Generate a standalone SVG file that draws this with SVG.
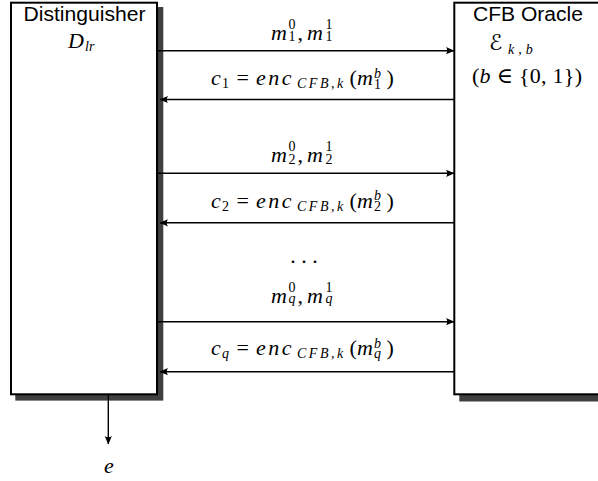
<svg xmlns="http://www.w3.org/2000/svg" width="598" height="481" viewBox="0 0 598 481">
<style>
.sf{font-family:"Liberation Sans",Arial,sans-serif;font-size:20px;fill:#000}
.mi{font-family:"Liberation Serif","Times New Roman",serif;font-style:italic;font-size:22px;fill:#000}
.rm{font-family:"Liberation Serif","DejaVu Serif","Times New Roman",serif;font-size:22px;fill:#000}
.sc{font-size:14px}
.it{font-style:italic}
.enc{letter-spacing:2.5px}
.sub{letter-spacing:2.5px}
.box{fill:#fff;stroke:#000;stroke-width:2}
.shadow{fill:#404040}
.conn{stroke:#000;stroke-width:1.4;fill:none;marker-end:url(#ah)}
</style>
<defs>
<marker id="ah" viewBox="-10 -5 12 10" refX="0" refY="0" markerWidth="12" markerHeight="10" orient="auto" markerUnits="userSpaceOnUse">
<path d="M0.5,0 L-8,-3.6 Q-5.5,0 -8,3.6 Z" fill="#000"/>
</marker>
</defs>
<rect width="598" height="481" fill="#fff"/>

<g id="distinguisher">
<rect class="shadow" x="15.3" y="7" width="148" height="393.6"/>
<rect class="box" x="11" y="2.7" width="146" height="391.6"/>
<text class="sf" x="84.5" y="21" text-anchor="middle" textLength="122" lengthAdjust="spacingAndGlyphs">Distinguisher</text>
<text class="mi" x="68" y="48">D</text>
<text class="mi sc" x="85" y="51">lr</text>
</g>

<g id="oracle">
<rect class="shadow" x="459.3" y="7" width="160" height="394.5"/>
<rect class="box" x="454.3" y="2.7" width="160" height="391.6"/>
<text class="sf" x="528" y="21" text-anchor="middle" textLength="110" lengthAdjust="spacingAndGlyphs">CFB Oracle</text>
<text x="489" y="50" font-family="'DejaVu Serif','DejaVu Sans',serif" font-size="22">ℰ</text>
<text class="mi sc" x="508" y="54" style="letter-spacing:4px">k,b</text>
<text class="rm" x="472" y="83" textLength="110" lengthAdjust="spacing">(<tspan class="it">b</tspan> ∈ {0, 1})</text>
</g>

<g id="output">
<text class="mi" x="104" y="473">e</text>
</g>

<g id="connectors">
<line class="conn" x1="158" y1="50.7" x2="454" y2="50.7"/>
<line class="conn" x1="454" y1="99.5" x2="160" y2="99.5"/>
<line class="conn" x1="158" y1="173.3" x2="454" y2="173.3"/>
<line class="conn" x1="454" y1="222.8" x2="160" y2="222.8"/>
<line class="conn" x1="158" y1="321.7" x2="454" y2="321.7"/>
<line class="conn" x1="454" y1="371.7" x2="160" y2="371.7"/>
<line class="conn" x1="108.3" y1="395.3" x2="108.3" y2="444"/>
</g>

<g id="labels">
<!-- row 1 -->
<text class="mi" x="271" y="39.5">m</text>
<text class="rm sc" x="288.5" y="28.5">0</text>
<text class="rm sc" x="288.5" y="41">1</text>
<text class="rm" x="297.5" y="39.5">,</text>
<text class="mi" x="307" y="39.5">m</text>
<text class="rm sc" x="325.5" y="28.5">1</text>
<text class="rm sc" x="325.5" y="41">1</text>

<text class="mi" x="211" y="85">c</text>
<text class="rm sc" x="222" y="88">1</text>
<text class="rm" x="236.5" y="85">=</text>
<text class="mi enc" x="256" y="85">enc</text>
<text class="mi sc sub" x="297" y="88">CFB,k</text>
<text class="rm" x="349.5" y="85">(</text>
<text class="mi" x="357" y="85">m</text>
<text class="mi sc" x="374" y="77.5">b</text>
<text class="rm sc" x="374" y="88.5">1</text>
<text class="rm" x="386.5" y="85">)</text>

<!-- row 2 -->
<text class="mi" x="271" y="162">m</text>
<text class="rm sc" x="288.5" y="151">0</text>
<text class="rm sc" x="288.5" y="163.5">2</text>
<text class="rm" x="297.5" y="162">,</text>
<text class="mi" x="307" y="162">m</text>
<text class="rm sc" x="325.5" y="151">1</text>
<text class="rm sc" x="325.5" y="163.5">2</text>

<text class="mi" x="211" y="207.5">c</text>
<text class="rm sc" x="222" y="210.5">2</text>
<text class="rm" x="236.5" y="207.5">=</text>
<text class="mi enc" x="256" y="207.5">enc</text>
<text class="mi sc sub" x="297" y="210.5">CFB,k</text>
<text class="rm" x="349.5" y="207.5">(</text>
<text class="mi" x="357" y="207.5">m</text>
<text class="mi sc" x="374" y="200">b</text>
<text class="rm sc" x="374" y="211">2</text>
<text class="rm" x="386.5" y="207.5">)</text>

<!-- dots -->
<text class="rm" x="304" y="263" text-anchor="middle">. . .</text>

<!-- row 3 -->
<text class="mi" x="271" y="303">m</text>
<text class="rm sc" x="288.5" y="292">0</text>
<text class="mi sc" x="288.5" y="303">q</text>
<text class="rm" x="297.5" y="303">,</text>
<text class="mi" x="307" y="303">m</text>
<text class="rm sc" x="325.5" y="292">1</text>
<text class="mi sc" x="325.5" y="303">q</text>

<text class="mi" x="211" y="355">c</text>
<text class="mi sc" x="222" y="358">q</text>
<text class="rm" x="236.5" y="355">=</text>
<text class="mi enc" x="256" y="355">enc</text>
<text class="mi sc sub" x="297" y="358">CFB,k</text>
<text class="rm" x="349.5" y="355">(</text>
<text class="mi" x="357" y="355">m</text>
<text class="mi sc" x="374" y="347.5">b</text>
<text class="mi sc" x="374" y="358">q</text>
<text class="rm" x="386.5" y="355">)</text>
</g>
</svg>
